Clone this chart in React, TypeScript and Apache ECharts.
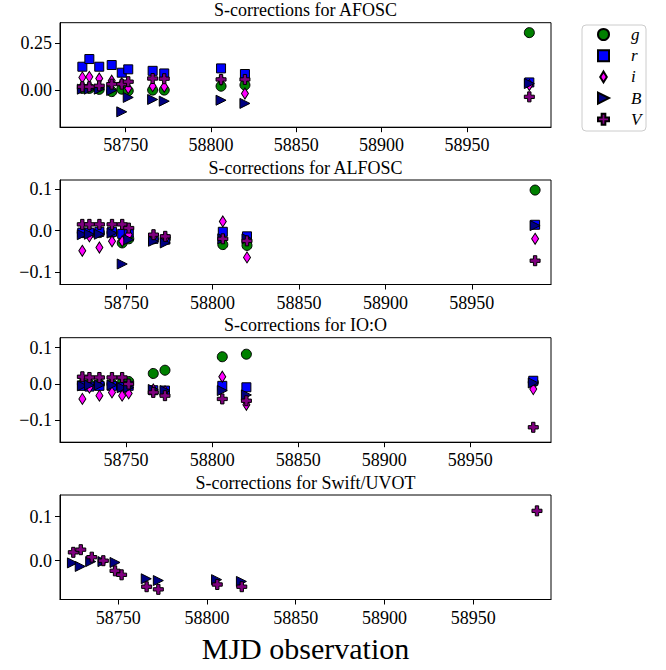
import React, { useEffect, useRef } from "react";
import * as echarts from "echarts";

// ---- data ----
const EPOCHS = [58724.6, 58728.7, 58734.5, 58741.8, 58747.7, 58751.5, 58765.8, 58772.6, 58805.9, 58819.9, 58986.6];

const AFOSC_g = [0.009, 0.009, 0.004, -0.008, 0.005, -0.004, 0.0, 0.0, 0.021, 0.027, 0.307];
const AFOSC_r = [0.125, 0.166, 0.125, 0.134, 0.093, 0.111, 0.103, 0.089, 0.116, 0.086, 0.041];
const AFOSC_i = [0.068, 0.071, 0.062, 0.05, 0.036, 0.01, 0.021, 0.018, 0.055, -0.018, 0.027];
const AFOSC_B = [0.005, 0.005, 0.005, -0.002, -0.116, -0.039, -0.05, -0.059, -0.054, -0.071, 0.035];
const AFOSC_V = [0.018, 0.018, 0.023, 0.032, 0.032, 0.045, 0.062, 0.061, 0.057, 0.057, -0.036];

const ALFOSC_g = [-0.005, -0.005, -0.005, -0.005, -0.03, -0.02, -0.02, -0.02, -0.034, -0.036, 0.098];
const ALFOSC_r = [-0.005, -0.005, -0.003, -0.003, -0.008, -0.005, -0.02, -0.022, -0.003, -0.014, 0.014];
const ALFOSC_i = [-0.049, -0.014, -0.041, -0.026, -0.026, -0.01, -0.015, -0.02, 0.022, -0.065, -0.02];
const ALFOSC_B = [-0.01, -0.009, -0.009, -0.006, -0.081, -0.022, -0.026, -0.03, -0.02, -0.02, 0.012];
const ALFOSC_V = [0.015, 0.015, 0.015, 0.015, 0.015, 0.006, -0.01, -0.014, -0.02, -0.025, -0.073];

const IOO_g = [0.0, 0.0, 0.0, 0.0, 0.003, 0.007, 0.029, 0.038, 0.075, 0.082, 0.005];
const IOO_r = [-0.005, -0.007, -0.005, -0.005, -0.009, -0.005, -0.017, -0.018, -0.005, -0.009, 0.009];
const IOO_i = [-0.041, -0.01, -0.032, -0.023, -0.032, -0.026, -0.015, -0.02, 0.02, -0.057, -0.014];
const IOO_B = [-0.005, -0.003, -0.003, -0.003, -0.01, -0.01, -0.015, -0.018, -0.018, -0.03, 0.003];
const IOO_V = [0.02, 0.018, 0.018, 0.018, 0.018, 0.0, -0.023, -0.032, -0.041, -0.046, -0.119];

const SWIFT_B_MJD = [58724.2, 58728.6, 58734.5, 58741.4, 58748.2, 58765.8, 58772.6, 58805.4, 58819.4];
const SWIFT_B = [-0.005, -0.013, -0.002, -0.002, -0.004, -0.041, -0.045, -0.043, -0.047];
const SWIFT_V_MJD = [58724.7, 58728.9, 58735.1, 58741.6, 58748.2, 58751.9, 58766.0, 58772.6, 58805.8, 58819.6, 58985.9];
const SWIFT_V = [0.019, 0.025, 0.008, 0.0, -0.023, -0.032, -0.059, -0.065, -0.054, -0.059, 0.113];

const TITLES = [
  "S-corrections for AFOSC",
  "S-corrections for ALFOSC",
  "S-corrections for IO:O",
  "S-corrections for Swift/UVOT",
];
const X_TICKS = [58750, 58800, 58850, 58900, 58950];
const Y_TICKS = [[0, 0.25], [-0.1, 0, 0.1], [-0.1, 0, 0.1], [0, 0.1]];
const Y_DECIMALS = [2, 1, 1, 1];
const FILTERS = ["g", "r", "i", "B", "V"];

// ---- layout / style ----
const X_RANGE = [
  [58711.5, 58999.3],
  [58711.7, 58995.8],
  [58711.6, 58996.9],
  [58717.2, 58993.8],
];
const Y_RANGE = [
  [-0.198, 0.36],
  [-0.1306, 0.1224],
  [-0.16, 0.1274],
  [-0.088, 0.149],
];
const GRID_TOPS = [22.7, 180, 337.7, 495];
const GRID_H = 104.5;
const GRID_LEFT = 60;
const GRID_W = 491;
const FONT = "'Liberation Serif', 'Times New Roman', serif";

const STYLE: Record<string, any> = {
  g: { symbol: "circle", symbolSize: 10, color: "#008000", icon: "circle" },
  r: { symbol: "rect", symbolSize: 9, color: "#0000ff", icon: "path://M0,0H10V10H0Z" },
  i: { symbol: "path://M3,0L6,5L3,10L0,5Z", symbolSize: [7, 11], color: "#ff00ff", icon: "path://M3,0L6,5L3,10L0,5Z" },
  B: { symbol: "path://M0,0L10,5L0,10Z", symbolSize: [10, 10], color: "#000080", icon: "path://M0,0L10,5L0,10Z" },
  V: { symbol: "path://M2,0H4V2H6V4H4V6H2V4H0V2H2Z", symbolSize: 10, color: "#800080", icon: "path://M2,0H4V2H6V4H4V6H2V4H0V2H2Z" },
};

function mk(name: string, xs: number[], ys: number[], k: number) {
  const s = STYLE[name];
  return {
    type: "scatter",
    name,
    xAxisIndex: k,
    yAxisIndex: k,
    data: xs.map((x, j) => [x, ys[j]]),
    symbol: s.symbol,
    symbolSize: s.symbolSize,
    itemStyle: { color: s.color, borderColor: "#000", borderWidth: 1, opacity: 1 },
    emphasis: { disabled: true },
  };
}

export default function App() {
  const ref = useRef<HTMLDivElement>(null);
  useEffect(() => {
    if (!ref.current) return;
    const chart = echarts.init(ref.current, undefined, { renderer: "svg" });

    const grids = GRID_TOPS.map((t) => ({
      left: GRID_LEFT,
      top: t,
      width: GRID_W,
      height: GRID_H,
      show: true,
      borderColor: "#000",
      borderWidth: 1,
      backgroundColor: "transparent",
    }));

    const xAxes = X_RANGE.map((r, k) => ({
      type: "value",
      gridIndex: k,
      min: r[0],
      max: r[1],
      splitLine: { show: false },
      axisLine: { show: true, onZero: false, lineStyle: { color: "#000", width: 1 } },
      axisTick: { show: true, length: 5, customValues: X_TICKS, lineStyle: { color: "#000" } },
      axisLabel: {
        customValues: X_TICKS,
        formatter: (v: number) => String(v),
        fontFamily: FONT,
        fontSize: 18,
        color: "#000",
        margin: 9,
      },
    }));

    const yAxes = Y_RANGE.map((r, k) => ({
      type: "value",
      gridIndex: k,
      min: r[0],
      max: r[1],
      splitLine: { show: false },
      axisLine: { show: true, onZero: false, lineStyle: { color: "#000", width: 1 } },
      axisTick: { show: true, length: 5, customValues: Y_TICKS[k], lineStyle: { color: "#000" } },
      axisLabel: {
        customValues: Y_TICKS[k],
        formatter: (v: number) => v.toFixed(Y_DECIMALS[k]).replace("-", "\u2212"),
        fontFamily: FONT,
        fontSize: 18,
        color: "#000",
        margin: 8,
      },
    }));

    const panels = [
      [AFOSC_g, AFOSC_r, AFOSC_i, AFOSC_B, AFOSC_V],
      [ALFOSC_g, ALFOSC_r, ALFOSC_i, ALFOSC_B, ALFOSC_V],
      [IOO_g, IOO_r, IOO_i, IOO_B, IOO_V],
    ];
    const series: any[] = [];
    panels.forEach((vals, k) => {
      FILTERS.forEach((f, fi) => series.push(mk(f, EPOCHS, vals[fi], k)));
    });
    series.push(mk("B", SWIFT_B_MJD, SWIFT_B, 3));
    series.push(mk("V", SWIFT_V_MJD, SWIFT_V, 3));

    const graphics: any[] = TITLES.map((t, k) => ({
      type: "text",
      x: GRID_LEFT + GRID_W / 2,
      y: GRID_TOPS[k] - 12.5,
      style: {
        text: t,
        fontFamily: FONT,
        fontSize: 18,
        fill: "#000",
        align: "center",
        verticalAlign: "middle",
      },
    }));
    graphics.push({
      type: "text",
      x: GRID_LEFT + GRID_W / 2,
      y: 648,
      style: {
        text: "MJD observation",
        fontFamily: FONT,
        fontSize: 30,
        fill: "#000",
        align: "center",
        verticalAlign: "middle",
      },
    });
    // legend frame
    graphics.push({
      type: "rect",
      z: 0,
      shape: { x: 582, y: 25, width: 64, height: 106, r: 4 },
      style: { fill: "#fff", stroke: "#cccccc", lineWidth: 1 },
    });

    chart.setOption({
      animation: false,
      backgroundColor: "#fff",
      grid: grids,
      xAxis: xAxes,
      yAxis: yAxes,
      series,
      graphic: graphics,
      legend: {
        data: FILTERS.map((f) => ({ name: f, icon: STYLE[f].icon })),
        orient: "vertical",
        left: 582,
        top: 23,
        padding: [3, 0, 0, 15],
        itemGap: 4.2,
        itemWidth: 11,
        itemHeight: 11,
        symbolKeepAspect: true,
        selectedMode: false,
        z: 5,
        textStyle: {
          fontFamily: FONT,
          fontStyle: "italic",
          fontSize: 17,
          color: "#000",
          lineHeight: 14,
          padding: [0, 0, 0, 17],
        },
      },
    });
    return () => chart.dispose();
  }, []);
  return (
    <div
      ref={ref}
      style={{ position: "absolute", left: 0, top: 0, width: 666, height: 670 }}
    />
  );
}
